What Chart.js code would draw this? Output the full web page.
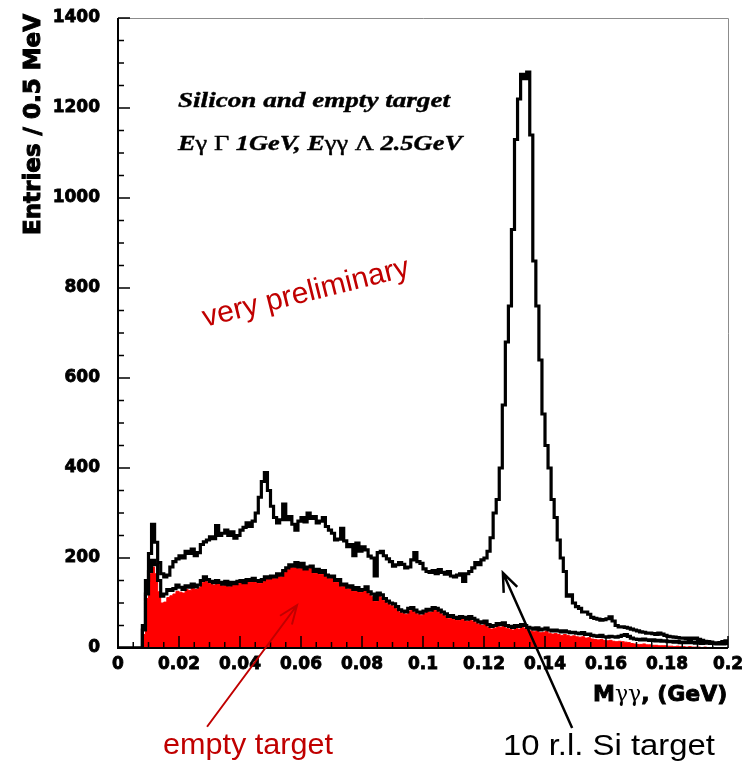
<!DOCTYPE html>
<html lang="en">
<head>
  <meta charset="UTF-8" />
  <title>M_gg spectrum - Silicon and empty target</title>
  <script src="https://cdn.jsdelivr.net/npm/chart.js"></script>
  <style>
    html, body { margin: 0; padding: 0; background: #fff; }
    .chart-container { width: 748px; height: 766px; }
  </style>
</head>
<body>
  <div class="chart-container">
    <canvas id="mggChart"></canvas>
  </div>

  <script>
    // 1 MeV wide bins from 0 to 0.2 GeV
    const binWidth = 0.001;

    const siTarget = [
      0, 0, 0, 0, 0, 0, 0, 0, 50, 150,
      210, 275, 235, 190, 165, 158, 162, 180, 192, 198,
      205, 200, 215, 210, 220, 205, 212, 230, 236, 240,
      247, 243, 272, 250, 255, 262, 250, 258, 244, 250,
      262, 268, 278, 270, 282, 300, 335, 370, 390, 350,
      315, 290, 278, 285, 320, 285, 292, 275, 262, 282,
      290, 280, 300, 288, 292, 278, 282, 290, 270, 262,
      255, 240, 242, 266, 238, 225, 230, 205, 233, 215,
      225, 218, 204, 200, 160, 212, 215, 205, 198, 192,
      182, 185, 190, 186, 178, 180, 196, 212, 192, 188,
      176, 170, 168, 172, 165, 174, 168, 164, 170, 160,
      158, 162, 165, 148, 165, 170, 178, 190, 185, 196,
      200, 215, 245, 300, 330, 400, 540, 680, 760, 930,
      1130, 1220, 1275, 1265, 1280, 1140, 860, 760, 640, 520,
      450, 400, 330, 290, 240, 200, 170, 115, 118, 100,
      92, 88, 80, 80, 75, 68, 66, 64, 62, 63,
      65, 69, 60, 50, 47, 47, 46, 44, 42, 40,
      38, 36, 35, 33, 33, 32, 30, 33, 31, 28,
      26, 25, 24, 23, 22, 22, 21, 22, 20, 22,
      19, 17, 15, 14, 13, 11, 10, 12, 14, 16
    ];

    const emptyLine = [
      0, 0, 0, 0, 0, 0, 0, 0, 40, 120,
      170, 195, 185, 150, 115, 120, 130, 128, 132, 140,
      135, 130, 138, 135, 142, 136, 140, 150, 158, 152,
      148, 145, 150, 146, 142, 148, 140, 146, 143, 148,
      150, 145, 152, 150, 155, 150, 148, 152, 158, 156,
      160, 158, 165, 162, 172, 178, 185, 182, 190, 180,
      188, 176, 180, 182, 170, 175, 168, 172, 162, 158,
      160, 150, 152, 140, 142, 135, 138, 130, 134, 128,
      130, 136, 125, 120, 108, 122, 118, 110, 104, 100,
      98, 92, 85, 82, 80, 88, 90, 84, 80, 78,
      82, 86, 84, 90, 88, 84, 80, 76, 70, 72,
      68, 66, 70, 68, 64, 70, 66, 62, 58, 56,
      60, 52, 48, 50, 54, 52, 56, 50, 48, 46,
      50, 48, 52, 50, 46, 44, 42, 45, 40, 42,
      44, 40, 38, 40, 38, 36, 38, 36, 34, 35,
      33, 32, 34, 30, 31, 28, 27, 26, 28, 25,
      24, 26, 25, 24, 26, 28, 30, 26, 22, 20,
      19, 18, 20, 18, 17, 18, 16, 17, 15, 16,
      14, 15, 13, 14, 12, 13, 12, 14, 12, 11,
      12, 10, 11, 12, 10, 11, 9, 10, 9, 10
    ];

    const emptyFill = [
      0, 0, 0, 0, 0, 0, 0, 0, 30, 110,
      165, 180, 165, 125, 100, 102, 112, 116, 120, 126,
      124, 122, 130, 128, 136, 130, 134, 145, 152, 147,
      143, 140, 146, 142, 138, 144, 136, 142, 139, 144,
      146, 141, 148, 146, 151, 146, 144, 148, 154, 152,
      156, 154, 161, 158, 168, 174, 181, 178, 186, 176,
      184, 172, 176, 178, 166, 171, 164, 168, 158, 154,
      156, 146, 148, 136, 138, 131, 134, 126, 130, 124,
      126, 130, 120, 114, 104, 117, 113, 105, 99, 95,
      93, 87, 80, 77, 75, 82, 85, 79, 75, 73,
      77, 81, 79, 85, 83, 79, 75, 71, 65, 67,
      63, 61, 65, 63, 59, 64, 60, 56, 52, 50,
      54, 46, 42, 44, 48, 46, 50, 44, 42, 40,
      44, 42, 46, 44, 40, 38, 36, 38, 34, 35,
      37, 33, 31, 32, 30, 28, 30, 28, 26, 27,
      25, 24, 25, 22, 23, 20, 19, 18, 19, 17,
      16, 17, 15, 14, 15, 14, 13, 12, 10, 9,
      8, 8, 9, 7, 7, 6, 6, 5, 5, 5,
      4, 4, 3, 4, 3, 3, 2, 3, 2, 2,
      2, 1, 2, 1, 1, 1, 1, 1, 0, 1
    ];

    const xTicks = [0, 0.02, 0.04, 0.06, 0.08, 0.1, 0.12, 0.14, 0.16, 0.18, 0.2];
    const yTicks = [0, 200, 400, 600, 800, 1000, 1200, 1400];

    // bin left edges + closing edge, drawn with stepped lines
    function toSteps(values) {
      const pts = values.map((v, i) => ({ x: i * binWidth, y: v }));
      pts.push({ x: values.length * binWidth, y: values[values.length - 1] });
      return pts;
    }

    function fitText(ctx, text, x, y, width, font, color, stroke) {
      ctx.save();
      ctx.font = font;
      ctx.fillStyle = color;
      ctx.textAlign = 'left';
      ctx.textBaseline = 'alphabetic';
      const w = ctx.measureText(text).width;
      ctx.translate(x, y);
      ctx.scale(width / w, 1);
      ctx.fillText(text, 0, 0);
      if (stroke) {
        ctx.strokeStyle = color;
        ctx.lineWidth = stroke;
        ctx.strokeText(text, 0, 0);
      }
      ctx.restore();
    }

    // text made of [string, font] pieces, stretched to a given width
    function fitRich(ctx, parts, x, y, width, color) {
      ctx.save();
      ctx.fillStyle = color;
      ctx.strokeStyle = color;
      ctx.lineWidth = 0.4;
      ctx.textAlign = 'left';
      ctx.textBaseline = 'alphabetic';
      let total = 0;
      parts.forEach(([t, f]) => { ctx.font = f; total += ctx.measureText(t).width; });
      ctx.translate(x, y);
      ctx.scale(width / total, 1);
      let cx = 0;
      parts.forEach(([t, f]) => {
        ctx.font = f;
        ctx.fillText(t, cx, 0);
        ctx.strokeText(t, cx, 0);
        cx += ctx.measureText(t).width;
      });
      ctx.restore();
    }

    function arrow(ctx, xs, ys, from, to, color, lw) {
      const x0 = xs.getPixelForValue(from[0]), y0 = ys.getPixelForValue(from[1]);
      const x1 = xs.getPixelForValue(to[0]), y1 = ys.getPixelForValue(to[1]);
      const a = Math.atan2(y1 - y0, x1 - x0);
      const head = 20, spread = 0.38;
      ctx.save();
      ctx.strokeStyle = color;
      ctx.lineWidth = lw;
      ctx.beginPath();
      ctx.moveTo(x0, y0);
      ctx.lineTo(x1, y1);
      ctx.moveTo(x1 - head * Math.cos(a - spread), y1 - head * Math.sin(a - spread));
      ctx.lineTo(x1, y1);
      ctx.lineTo(x1 - head * Math.cos(a + spread), y1 - head * Math.sin(a + spread));
      ctx.stroke();
      ctx.restore();
    }

    // ROOT-like frame with inward ticks
    const framePlugin = {
      id: 'frame',
      afterDatasetsDraw(chart) {
        const { ctx, chartArea: a, scales: { x, y } } = chart;
        ctx.save();
        ctx.strokeStyle = '#8c8c8c';
        ctx.lineWidth = 1;
        ctx.beginPath();
        ctx.moveTo(a.left, a.top + 0.5);
        ctx.lineTo(a.right + 0.5, a.top + 0.5);
        ctx.lineTo(a.right + 0.5, a.bottom);
        ctx.stroke();

        ctx.strokeStyle = '#000';
        ctx.lineWidth = 1.5;
        ctx.beginPath();
        for (let v = 0; v <= 1400.01; v += 50) {
          const py = y.getPixelForValue(v);
          const len = (Math.round(v) % 200 === 0) ? 12 : 6;
          ctx.moveTo(a.left, py);
          ctx.lineTo(a.left + len, py);
        }
        for (let k = 0; k <= 40; k++) {
          const px = x.getPixelForValue(k * 0.005);
          const len = (k % 4 === 0) ? 12 : 6;
          ctx.moveTo(px, a.bottom);
          ctx.lineTo(px, a.bottom - len);
        }
        ctx.stroke();

        ctx.lineWidth = 2;
        ctx.beginPath();
        ctx.moveTo(a.left, a.top);
        ctx.lineTo(a.left, a.bottom);
        ctx.lineTo(a.right, a.bottom);
        ctx.stroke();
        ctx.restore();
      },
      afterDraw(chart) {
        const { ctx, scales: { x, y } } = chart;

        // axis titles
        ctx.save();
        ctx.translate(40, 235);
        ctx.rotate(-Math.PI / 2);
        fitText(ctx, 'Entries / 0.5 MeV', 0, 0, 221, 'bold 23px "DejaVu Sans"', '#000', 1);
        ctx.restore();

        ctx.save();
        ctx.fillStyle = '#000';
        ctx.strokeStyle = '#000';
        ctx.lineWidth = 0.9;
        ctx.textBaseline = 'alphabetic';
        let cx = 593;
        const by = 701;
        ctx.font = 'bold 22px "DejaVu Sans"';
        ctx.fillText('M', cx, by); ctx.strokeText('M', cx, by); cx += ctx.measureText('M').width;
        ctx.font = '22px "DejaVu Serif"';
        ctx.fillText('γγ', cx, by); cx += ctx.measureText('γγ').width;
        ctx.font = 'bold 22px "DejaVu Sans"';
        ctx.fillText(', (GeV)', cx, by); ctx.strokeText(', (GeV)', cx, by);
        ctx.restore();

        // header text
        const it = 'bold italic 21px "Liberation Serif"';
        const up = '21px "Liberation Serif"';
        fitText(ctx, 'Silicon and empty target', 178, 107, 272, it, '#000', 0.4);
        fitRich(ctx, [['E', it], ['γ', up], [' Γ ', up], ['1GeV, E', it], ['γγ', up], [' Λ ', up], ['2.5GeV', it]],
          178, 150, 284, '#000');

        // very preliminary
        ctx.save();
        ctx.translate(205, 327);
        ctx.rotate(-14 * Math.PI / 180);
        fitText(ctx, 'very preliminary', 0, 0, 212, '30px "Liberation Sans"', '#c00000');
        ctx.restore();

        // labels and arrows below the axis
        fitText(ctx, 'empty target', 163, 754, 170, '30px "Liberation Sans"', '#c00000');
        fitText(ctx, '10 r.l. Si target', 503, 755, 212, '30px "Liberation Sans"', '#000');
        arrow(ctx, x, y, [0.0292, -175], [0.0587, 95], '#c00000', 2);
        arrow(ctx, x, y, [0.1489, -178], [0.1262, 167], '#000', 2.5);
      }
    };

    const tickFont = { family: '"DejaVu Sans"', weight: 'bold', size: 17 };

    const config = {
      type: 'line',
      data: {
        datasets: [
          {
            label: '10 r.l. Si target',
            data: toSteps(siTarget),
            stepped: 'before',
            borderColor: '#000',
            borderWidth: 3.2,
            pointRadius: 0,
            fill: false,
            order: 1
          },
          {
            label: 'empty target (line)',
            data: toSteps(emptyLine),
            stepped: 'before',
            borderColor: '#000',
            borderWidth: 3.2,
            pointRadius: 0,
            fill: false,
            order: 2
          },
          {
            label: 'empty target',
            data: toSteps(emptyFill),
            stepped: 'before',
            borderColor: '#ff0000',
            borderWidth: 1,
            backgroundColor: '#ff0000',
            pointRadius: 0,
            fill: 'origin',
            order: 3
          }
        ]
      },
      options: {
        responsive: true,
        maintainAspectRatio: false,
        animation: false,
        events: [],
        layout: { padding: { top: 18, right: 20, left: 0, bottom: 0 } },
        plugins: {
          legend: { display: false },
          tooltip: { enabled: false }
        },
        scales: {
          x: {
            type: 'linear',
            min: 0,
            max: 0.2,
            afterFit: (s) => { s.height = 118; s.paddingLeft = 0; s.paddingRight = 0; },
            afterBuildTicks: (s) => { s.ticks = xTicks.map(v => ({ value: v })); },
            grid: { display: false, drawTicks: false },
            border: { display: false },
            ticks: {
              padding: 6,
              maxRotation: 0,
              autoSkip: false,
              color: '#000',
              textStrokeColor: '#000',
              textStrokeWidth: 0.8,
              font: tickFont,
              callback: (v) => parseFloat(Number(v).toFixed(2)).toString()
            }
          },
          y: {
            min: 0,
            max: 1400,
            afterFit: (s) => { s.width = 118; s.paddingTop = 0; s.paddingBottom = 0; },
            afterBuildTicks: (s) => { s.ticks = yTicks.map(v => ({ value: v })); },
            grid: { display: false, drawTicks: false },
            border: { display: false },
            ticks: {
              padding: 18,
              color: '#000',
              textStrokeColor: '#000',
              textStrokeWidth: 0.8,
              font: tickFont,
              callback: (v) => String(v)
            }
          }
        }
      },
      plugins: [framePlugin]
    };

    new Chart(document.getElementById('mggChart'), config);
  </script>
</body>
</html>
